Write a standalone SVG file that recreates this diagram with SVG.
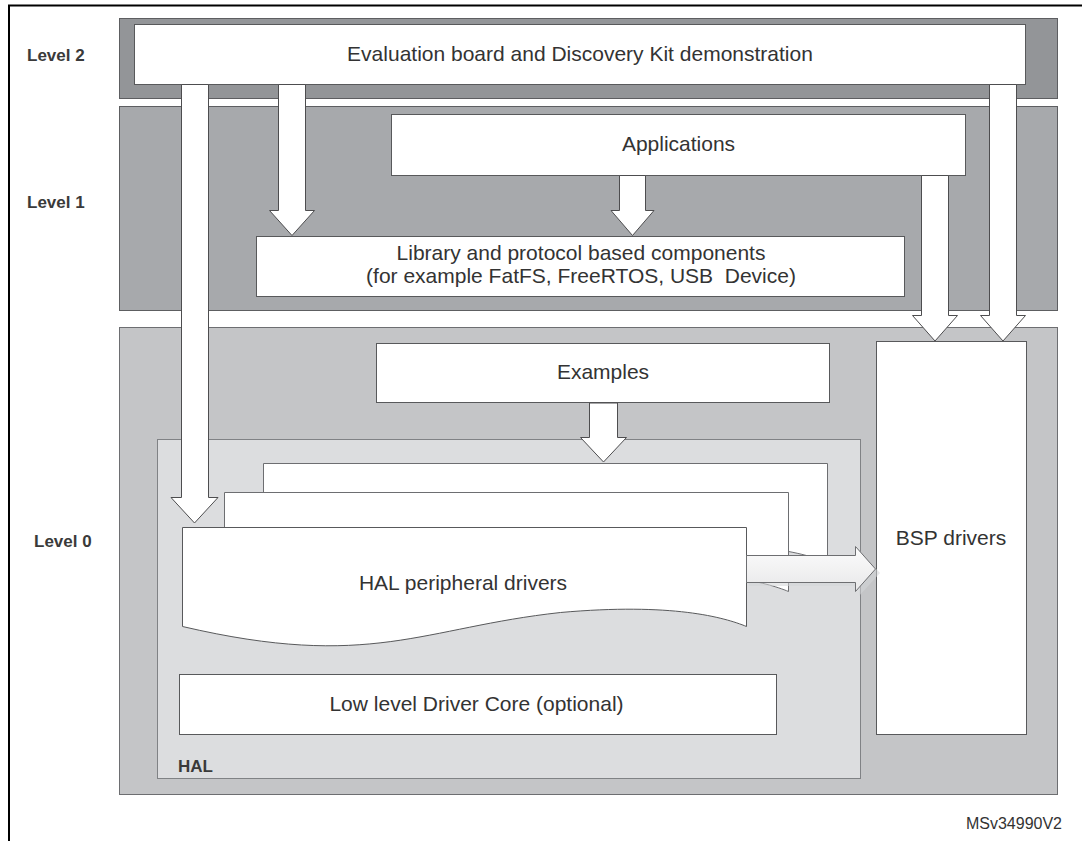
<svg xmlns="http://www.w3.org/2000/svg" width="1082" height="841" viewBox="0 0 1082 841">
  <style>
    .band2 { fill: #939598; stroke: #5d5e61; stroke-width: 1; }
    .band1 { fill: #a7a9ac; stroke: #5d5e61; stroke-width: 1; }
    .band0 { fill: #c4c5c7; stroke: #6d6e71; stroke-width: 1; }
    .hal { fill: #dcdddf; stroke: #808285; stroke-width: 1; }
    .box { fill: #ffffff; stroke: #58595b; stroke-width: 1; }
    .page { fill: #ffffff; stroke: #6d6e71; stroke-width: 1; }
    .arrow { fill: #ffffff; stroke: #4d4d4f; stroke-width: 1; stroke-linejoin: miter; }
    .txt { font-family: "Liberation Sans", Arial, sans-serif; font-size: 21px; fill: #333333; text-anchor: middle; white-space: pre; }
    .lvl { font-family: "Liberation Sans", Arial, sans-serif; font-size: 17px; font-weight: bold; fill: #3a3a3a; }
    .ref { font-family: "Liberation Sans", Arial, sans-serif; font-size: 16px; fill: #333333; text-anchor: end; }
    .frame { stroke: #000000; stroke-width: 2; fill: none; }
  </style>
  <defs>
    <linearGradient id="hgrad" x1="0" y1="0" x2="0" y2="1">
      <stop offset="0" stop-color="#fcfcfc"/>
      <stop offset="1" stop-color="#e8e8e9"/>
    </linearGradient>
    <path id="docpage" d="M0,0 H564 V99 C542,90 490,75 378,85 C240,100 188,143 0,99 Z"/>
  </defs>

  <rect x="0" y="0" width="1082" height="841" fill="#ffffff"/>
  <!-- outer frame -->
  <path class="frame" d="M9,841 V5.5 H1082"/>

  <!-- Level 2 -->
  <g id="level2">
    <rect class="band2" x="119.5" y="18.5" width="938" height="80"/>
    <text class="lvl" x="27" y="61">Level 2</text>
  </g>
  <g id="eval">
    <rect class="box" x="134.5" y="24.5" width="891" height="60"/>
    <text class="txt" x="580" y="61">Evaluation board and Discovery Kit demonstration</text>
  </g>

  <!-- Level 1 -->
  <g id="level1">
    <rect class="band1" x="119.5" y="106.5" width="938" height="204"/>
    <text class="lvl" x="27" y="208">Level 1</text>
  </g>
  <g id="applications">
    <rect class="box" x="391.5" y="114.5" width="574" height="61"/>
    <text class="txt" x="678.5" y="151">Applications</text>
  </g>
  <g id="library">
    <rect class="box" x="256.5" y="236.5" width="648" height="60"/>
    <text class="txt" x="581" y="260">Library and protocol based components</text>
    <text class="txt" x="581" y="283" xml:space="preserve">(for example FatFS, FreeRTOS, USB  Device)</text>
  </g>

  <!-- Level 0 -->
  <g id="level0">
    <rect class="band0" x="119.5" y="327.5" width="938" height="467"/>
    <text class="lvl" x="34" y="547">Level 0</text>
  </g>
  <g id="examples">
    <rect class="box" x="376.5" y="343.5" width="453" height="59"/>
    <text class="txt" x="603" y="379">Examples</text>
  </g>
  <g id="bsp">
    <rect class="box" x="876.5" y="341.5" width="150" height="393"/>
    <text class="txt" x="951" y="545">BSP drivers</text>
  </g>
  <g id="hal">
    <rect class="hal" x="157.5" y="439.5" width="703" height="339"/>
    <text class="lvl" x="178" y="772">HAL</text>
  </g>
  <g id="hal-peripheral-drivers">
    <use href="#docpage" class="page" transform="translate(263.5,463.5)"/>
    <use href="#docpage" class="page" transform="translate(224.5,492.5)"/>
    <use href="#docpage" class="box" transform="translate(182.5,527.5)"/>
    <text class="txt" x="463" y="590">HAL peripheral drivers</text>
  </g>
  <g id="lowlevel">
    <rect class="box" x="179.5" y="674.5" width="597" height="60"/>
    <text class="txt" x="476.5" y="711">Low level Driver Core (optional)</text>
  </g>

  <g id="reference">
    <text class="ref" x="1062" y="829">MSv34990V2</text>
  </g>

  <!-- connectors -->
  <g id="connectors">
    <!-- Eval -> HAL -->
    <path class="arrow" d="M181.5,84.5 H208.5 V497.5 H218 L194.5,523 L171,497.5 H181.5 Z"/>
    <!-- Eval -> Library -->
    <path class="arrow" d="M278.5,84.5 H305.5 V210.5 H314.5 L292,235.5 L269.5,210.5 H278.5 Z"/>
    <!-- Applications -> Library -->
    <path class="arrow" d="M619.5,175.5 H645.5 V210.5 H654 L632.5,235.5 L611,210.5 H619.5 Z"/>
    <!-- Applications -> BSP -->
    <path class="arrow" d="M921.5,175.5 H948.5 V315.5 H957.5 L935,341 L912.5,315.5 H921.5 Z"/>
    <!-- Eval -> BSP -->
    <path class="arrow" d="M989.5,84.5 H1016.5 V315.5 H1025.5 L1003,341 L980.5,315.5 H989.5 Z"/>
    <!-- Examples -> HAL -->
    <path class="arrow" d="M589.5,403 H617.5 V437.5 H626.5 L603.5,462 L580.5,437.5 H589.5 Z"/>
    <!-- HAL peripheral drivers -> BSP -->
    <path d="M749,559 H859 V550 L880,573 L859,596 V586 H749 Z" fill="#d4d5d7" opacity="0.55"/>
    <path d="M746.5,555.5 H855.5 V546.5 L875.5,569 L855.5,591.5 V582.5 H746.5 Z" fill="url(#hgrad)" stroke="#6d6e71" stroke-width="1"/>
  </g>
</svg>
